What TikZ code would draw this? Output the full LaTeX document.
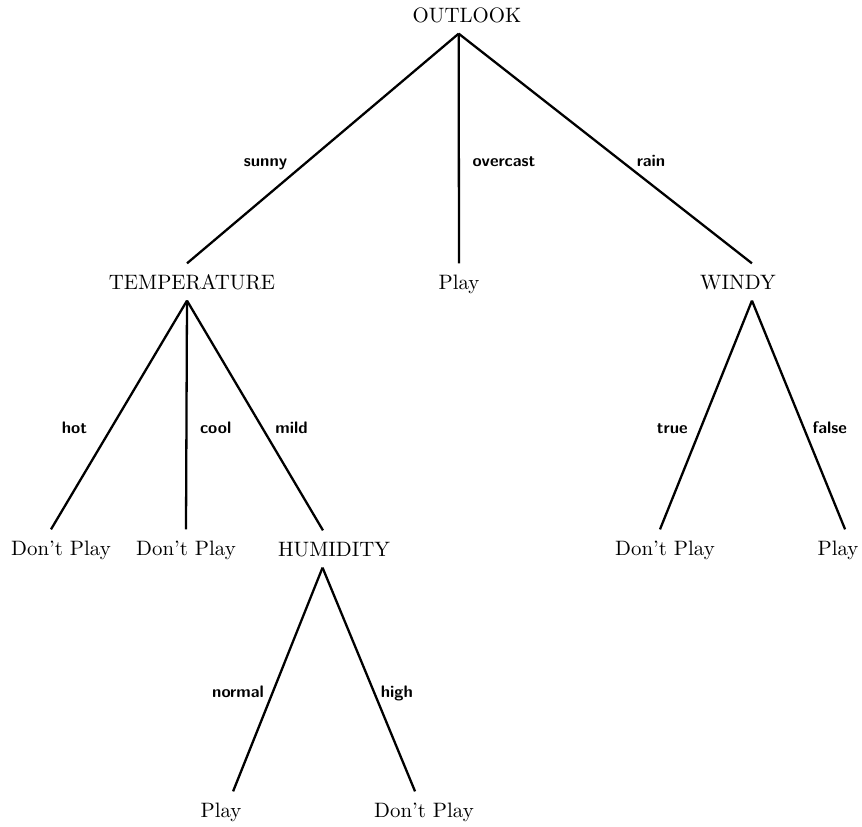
\documentclass[tikz,border=0pt]{standalone}
\usetikzlibrary{positioning}

\begin{document}
\begin{tikzpicture}[x=0.48pt, y=-0.48pt, line width=1.1pt,
    attr/.style={inner xsep=0pt, inner ysep=5pt, text height=6.8pt, text depth=0pt},
    val/.style={pos=.55, inner sep=0pt, font=\fontsize{8}{9}\sffamily\bfseries, text height=1.5ex, text depth=0pt}]
    \useasboundingbox (0,0) rectangle (862,827);

    % attributes and leaves
    \node[attr] (outlook) at (467,15)  {OUTLOOK};
    \node[attr] (temp)    at (192,282) {TEMPERATURE};
    \node[attr] (play1)   at (459,282) {Play};
    \node[attr] (windy)   at (738,282) {WINDY};
    \node[attr] (dp1)     at (61,548)  {Don't Play};
    \node[attr] (dp2)     at (186,548) {Don't Play};
    \node[attr] (hum)     at (334,549) {HUMIDITY};
    \node[attr] (dp3)     at (665,548) {Don't Play};
    \node[attr] (play3)   at (838,548) {Play};
    \node[attr] (play4)   at (221,810) {Play};
    \node[attr] (dp4)     at (424,810) {Don't Play};

    % branches with attribute values
    \path[draw]
        ([xshift=-4pt]outlook.south)
            edge node[val, left=10pt] {sunny} ([xshift=-2.4pt]temp.north)
            edge node[val, right=6pt] {overcast} (play1.north)
            edge node[val, right=7.5pt] {rain} ([xshift=6.7pt]windy.north)
        ([xshift=-2.4pt]temp.south)
            edge node[val, left=11.5pt] {hot} ([xshift=-4.8pt]dp1.north)
            edge node[val, right=6pt] {cool} (dp2.north)
            edge node[val, right=6pt] {mild} ([xshift=-5.3pt]hum.north)
        ([xshift=6.7pt]windy.south)
            edge node[val, left=6pt] {true} ([xshift=-2.4pt]dp3.north)
            edge node[val, right=4pt] {false} ([xshift=3.4pt]play3.north)
        ([xshift=-5.5pt]hum.south)
            edge node[val, left=4pt] {normal} ([xshift=5.8pt]play4.north)
            edge node[val, right=3pt] {high} ([xshift=-4.3pt]dp4.north);
\end{tikzpicture}
\end{document}
